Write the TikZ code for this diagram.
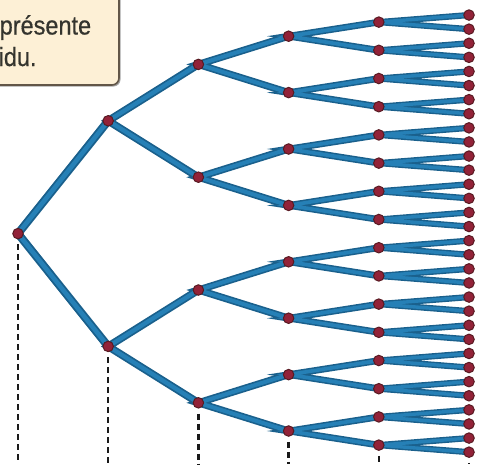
\documentclass[tikz,border=0pt]{standalone}
\usepackage{fontspec}
\setmainfont{Liberation Sans}
\definecolor{branchdark}{RGB}{26,96,140}
\definecolor{branchlight}{RGB}{38,128,182}
\definecolor{dotfill}{RGB}{146,34,56}
\definecolor{dotedge}{RGB}{88,26,34}
\definecolor{notefill}{RGB}{253,240,214}
\definecolor{noteedge}{RGB}{98,86,72}
\definecolor{notetext}{RGB}{52,52,46}
\tikzset{
  dot/.style={circle, fill=dotfill, draw=dotedge, line width=1pt, inner sep=0pt, minimum size=10.5pt},
  guide/.style={black!90, line width=2.4pt, dash pattern=on 6pt off 4pt},
  notebox/.style={fill=notefill, draw=noteedge, line width=1.6pt, rounded corners=7pt},
  notetxt/.style={text=notetext, font=\fontsize{23.5}{28}\selectfont\addfontfeatures{FakeBold=0.6}, inner sep=0pt, anchor=base west, yscale=1.12}
}
\begin{document}
\begin{tikzpicture}[x=1pt, y=-1pt]
  \useasboundingbox (0,0) rectangle (478,464);
  \clip (0,0) rectangle (478,464);

  % note box in the upper left corner
  \fill[black!35, rounded corners=7pt] (-20,-20) rectangle (120.5,86.5);
  \draw[notebox] (-20,-20) rectangle (119,85);
  \node[notetxt] (txt-a) at (-0.5,34.5) {présente};
  \node[notetxt] (txt-b) at (-1.5,66) {idu.};

  % positions of the tree vertices: level l has 2^l vertices
  \foreach \l in {0,...,5} {
    \pgfmathtruncatemacro\last{2^\l-1}
    \foreach \i in {0,...,\last} {
      \pgfmathsetmacro\xx{18+90.2*\l}
      \pgfmathsetmacro\yy{8+451.2*(\i+0.5)/(2^\l)}
      \coordinate (p-\l-\i) at (\xx,\yy);
    }
  }

  % branches: dark stroke first, lighter core on top
  \foreach \pass/\col/\frac in {0/branchdark/1, 1/branchlight/0.55} {
    \foreach \l in {0,...,4} {
      \pgfmathtruncatemacro\last{2^\l-1}
      \pgfmathtruncatemacro\m{\l+1}
      \pgfmathsetmacro\w{(8.2-0.5*\l)*\frac}
      \foreach \i in {0,...,\last} {
        \pgfmathtruncatemacro\a{2*\i}
        \pgfmathtruncatemacro\b{2*\i+1}
        \draw[\col, line width=\w pt, line cap=round] (p-\m-\a) -- (p-\l-\i) -- (p-\m-\b);
      }
    }
  }

  % vertices
  \foreach \l in {0,...,5} {
    \pgfmathtruncatemacro\last{2^\l-1}
    \foreach \i in {0,...,\last} {
      \node[dot] (n-\l-\i) at (p-\l-\i) {};
    }
  }

  % dashed guides below the lowest vertex of each level
  \coordinate (floor) at (0,464);
  \foreach \l in {0,...,5} {
    \pgfmathtruncatemacro\last{2^\l-1}
    \draw[guide] ([yshift=-5pt]n-\l-\last.south) -- (n-\l-\last |- floor);
  }
\end{tikzpicture}
\end{document}
